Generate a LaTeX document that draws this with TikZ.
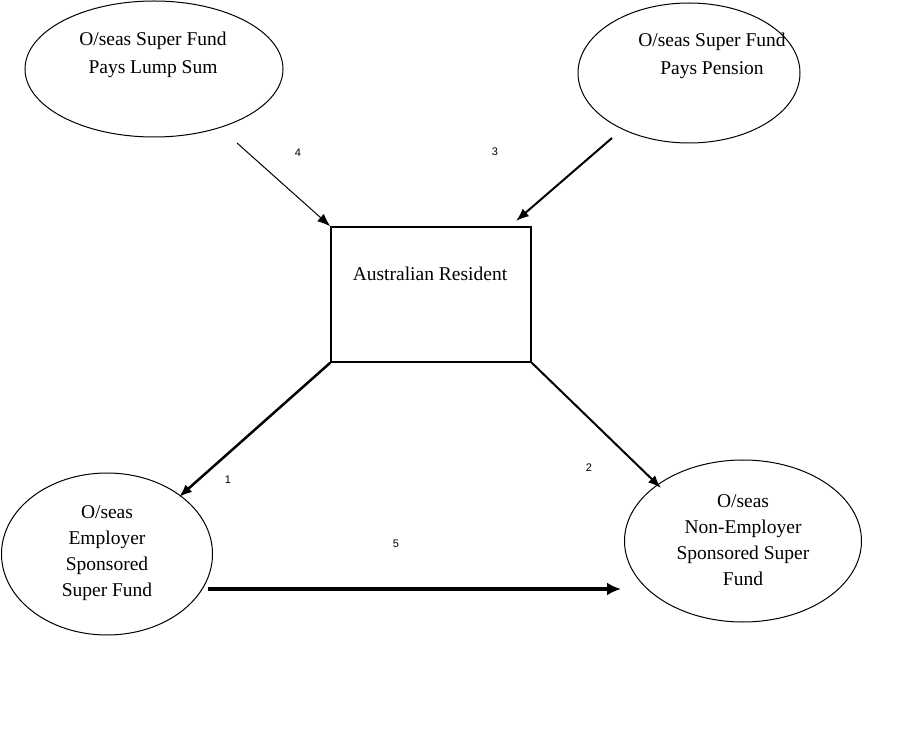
\documentclass[tikz,border=0pt]{standalone}
\usepackage{fontspec}
\setmainfont{Liberation Serif}
\newfontfamily\labfont{Liberation Sans}
\usetikzlibrary{shapes.geometric,arrows.meta}
\begin{document}
\begin{tikzpicture}[x=1pt,y=-1pt,
  oval/.style={ellipse,draw,line width=1pt,inner sep=0pt},
  box/.style={draw,line width=1.5pt,inner sep=0pt},
  txt/.style={align=center,font=\fontsize{19.5}{26}\selectfont,inner sep=0pt},
  num/.style={font=\labfont\fontsize{11}{13}\selectfont,inner sep=0pt},
  arr/.style={-{Latex[length=13pt,width=10pt]}}]
\useasboundingbox (0,0) rectangle (898,735);
% shapes
\node[oval,minimum width=258,minimum height=136] (tl) at (154,69) {};
\node[oval,minimum width=222,minimum height=140] (tr) at (689,73) {};
\node[oval,minimum width=211,minimum height=162] (bl) at (107,554) {};
\node[oval,minimum width=237,minimum height=162] (br) at (743,541) {};
\node[box,minimum width=200,minimum height=135] (R) at (431,294.5) {};
% texts
\node[txt] (tltext) at (153,55) {O/seas Super Fund\\[2pt]Pays Lump Sum};
\node[txt] (trtext) at (712,56) {O/seas Super Fund\\[2pt]Pays Pension};
\node[txt] (rtext) at (430,274) {Australian Resident};
\node[txt] (bltext) at (107,553) {O/seas\\Employer\\Sponsored\\Super Fund};
\node[txt] (brtext) at (743,540) {O/seas\\Non-Employer\\Sponsored Super\\Fund};
% free ends
\coordinate (s4) at (237,143);
\coordinate (s3) at (612,138);
\coordinate (e3) at (516,221);
\coordinate (e1) at (179,497);
\coordinate (e2) at (661,488);
\coordinate (s5) at (208,589);
\coordinate (e5) at (621,589);
% connectors
\draw[arr,line width=1pt] (s4) -- (R.north west);
\draw[arr,line width=2pt] (s3) -- (e3);
\draw[arr,line width=2.5pt] (R.south west) -- (e1);
\draw[arr,line width=2pt] (R.south east) -- (e2);
\draw[line width=4pt,-{Latex[length=14pt,width=13pt]}] (s5) -- (e5);
% labels
\node[num] (n4) at (298,153) {4};
\node[num] (n3) at (495,152) {3};
\node[num] (n1) at (228,480) {1};
\node[num] (n2) at (589,468) {2};
\node[num] (n5) at (396,544) {5};
\end{tikzpicture}
\end{document}
